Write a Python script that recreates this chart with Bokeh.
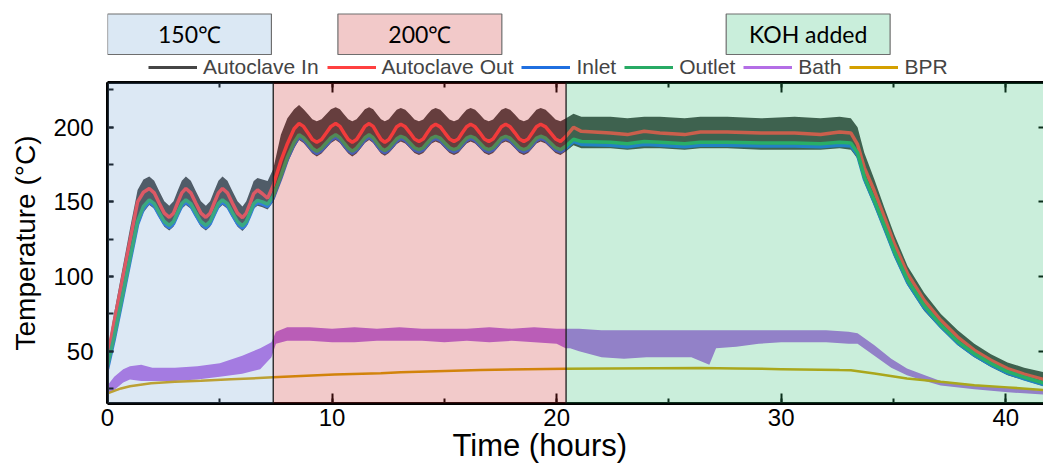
from bokeh.plotting import figure
from bokeh.models import (Range1d, LinearAxis, SingleIntervalTicker, BoxAnnotation,
                          Span, Legend, LegendItem, Title)
from bokeh.layouts import column
from bokeh.embed import file_html
from bokeh.resources import INLINE
from bokeh.core.properties import value

# ---------------- data ----------------
hours = [0.00, 0.30, 0.60, 1.00, 1.34, 1.60,
         1.86, 2.08, 2.30, 2.53, 2.75, 2.94, 3.12, 3.31,
         3.49, 3.71, 3.93, 4.16, 4.38, 4.57, 4.75, 4.94,
         5.12, 5.34, 5.56, 5.79, 6.01, 6.18, 6.35, 6.51,
         6.68, 6.90, 7.13, 7.38, 7.72, 8.01, 8.31,
         8.53, 8.73, 8.93, 9.12, 9.32, 9.53, 9.74, 9.95,
         10.16, 10.35, 10.53, 10.72, 10.90, 11.09, 11.28, 11.46,
         11.65, 11.83, 12.00, 12.18, 12.35, 12.53, 12.71, 12.88,
         13.06, 13.26, 13.47, 13.67, 13.87, 14.06, 14.24, 14.43,
         14.61, 14.82, 15.02, 15.23, 15.43, 15.62, 15.80, 15.99,
         16.17, 16.37, 16.58, 16.78, 16.98, 17.17, 17.36, 17.54,
         17.73, 17.93, 18.14, 18.34, 18.54, 18.73, 18.92, 19.10,
         19.29, 19.51, 19.73, 19.95, 20.17,
         20.42, 20.75, 21.10, 22.40, 23.15, 23.90, 24.60, 25.70,
         26.40, 27.60, 29.10, 30.60, 31.75, 32.60, 33.10, 33.40, 33.70, 34.15, 34.60, 35.04,
         35.63, 36.37, 37.11, 37.86, 38.60, 39.34, 40.08, 40.82, 41.70]

autoclave_out = [46, 70, 93, 124, 150, 156.5,
                 159, 156.1, 149.3, 142.5, 139.7, 142.5, 149.3, 156.1,
                 159, 156.1, 149.3, 142.5, 139.7, 142.5, 149.3, 156.1,
                 159, 156.1, 149.3, 142.5, 139.5, 142.5, 149, 155.5,
                 158, 155.5, 152.5, 161, 177.5, 189, 199,
                 202.5, 200.6, 196.2, 191.8, 190, 191.8, 196.2, 200.6,
                 202.5, 200.6, 196.2, 191.8, 190, 191.8, 196.2, 200.6,
                 202.5, 200.6, 196.2, 191.8, 190, 191.8, 196.1, 200.4,
                 202, 200.3, 196.3, 192.2, 190.5, 192.2, 196.3, 200.3,
                 202, 200.3, 196.3, 192.2, 190.5, 192.2, 196.3, 200.3,
                 202, 200.3, 196.3, 192.2, 190.5, 192.2, 196.3, 200.3,
                 202, 200.3, 196.3, 192.2, 190.5, 192.2, 196.3, 200.3,
                 202, 200.3, 196.3, 192.2, 190.5,
                 194, 200, 197.3, 196.2, 195.1, 197.3, 196.2, 195.1,
                 196.8, 196.8, 196.2, 196.2, 195.1, 196.8, 196.2, 188.5, 173, 157.3, 139.5, 121.8,
                 101.8, 84, 70.7, 59.5, 50.7, 44, 38.4, 34.7, 31.1]

outlet = [40, 60, 82, 112, 137, 147,
          151.4, 148.9, 142.9, 136.9, 134.3, 136.9, 142.9, 148.9,
          151.4, 148.9, 142.9, 136.9, 134.3, 136.9, 142.9, 148.9,
          151.4, 148.9, 142.9, 136.9, 134, 136.9, 142.9, 148.9,
          151, 150, 148.5, 154, 167.5, 180, 190,
          195, 193, 189.5, 186, 184, 186, 189.5, 193,
          195, 193, 189.5, 186, 184, 186, 189.5, 193,
          195, 193, 189.5, 186, 184.5, 186.3, 189.3, 192.3,
          194, 192.7, 189.5, 186.3, 185, 186.3, 189.5, 192.7,
          194, 192.7, 189.5, 186.3, 185, 186.3, 189.5, 192.7,
          194, 192.7, 189.5, 186.3, 185, 186.3, 189.5, 192.7,
          194, 192.7, 189.5, 186.3, 185, 186.3, 189.5, 192.7,
          194, 192.7, 189.5, 186.3, 185,
          187.5, 192, 190.5, 190, 189, 190.5, 190, 189,
          190, 190, 189.5, 189.5, 189, 190, 189.5, 183, 167, 151, 134, 117,
          97.5, 80.5, 67.5, 56.5, 48.3, 41.8, 36.3, 32.6, 28.6]

inlet = [38, 58, 80, 110, 135, 145.5,
         150, 147.4, 141.4, 135.4, 132.8, 135.4, 141.4, 147.4,
         150, 147.4, 141.4, 135.4, 132.8, 135.4, 141.4, 147.4,
         150, 147.4, 141.4, 135.4, 132.5, 135.4, 141.4, 147.4,
         149.5, 148.5, 147, 152.5, 166, 178.5, 188.5,
         193.5, 191.5, 188, 184.5, 182.5, 184.5, 188, 191.5,
         193.5, 191.5, 188, 184.5, 182.5, 184.5, 188, 191.5,
         193.5, 191.5, 188, 184.5, 183, 184.8, 187.8, 190.8,
         192.5, 191.2, 188, 184.8, 183.5, 184.8, 188, 191.2,
         192.5, 191.2, 188, 184.8, 183.5, 184.8, 188, 191.2,
         192.5, 191.2, 188, 184.8, 183.5, 184.8, 188, 191.2,
         192.5, 191.2, 188, 184.8, 183.5, 184.8, 188, 191.2,
         192.5, 191.2, 188, 184.8, 183.5,
         186, 190.5, 188.5, 188, 187, 188.5, 188, 187,
         188, 188, 187.5, 187.5, 187, 188, 187.5, 181.5, 165.5, 149.5, 132.5, 115.5,
         96, 79, 66.5, 55.5, 47.3, 40.8, 35.3, 31.6, 27.6]

autoclave_in_high = [50, 76, 100, 132, 158, 165,
                     167, 164.2, 157.3, 150.4, 147.5, 150.4, 157.3, 164.2,
                     167, 164.2, 157.3, 150.4, 147.5, 150.4, 157.3, 164.2,
                     167, 164.2, 157.3, 150.4, 147, 150.4, 157.3, 164,
                     166, 165, 164, 172, 195, 206, 212,
                     215, 212, 208.7, 205.4, 204, 205.4, 208.7, 212,
                     213.5, 212, 208.7, 205.4, 204, 205.4, 208.7, 212,
                     213.5, 212, 208.7, 205.4, 204, 205.4, 208.7, 211.8,
                     213, 211.7, 208.5, 205.3, 204, 205.3, 208.5, 211.7,
                     213, 211.7, 208.5, 205.3, 204, 205.3, 208.5, 211.7,
                     213, 211.7, 208.5, 205.3, 204, 205.3, 208.5, 211.7,
                     213, 211.7, 208.5, 205.3, 204, 205.3, 208.5, 211.7,
                     213, 211.7, 208.5, 205.3, 204,
                     206, 209, 207, 207, 206, 207, 207, 206,
                     207, 207, 206, 207, 206, 207, 206, 200, 183, 165, 146, 128,
                     107, 89, 75, 64, 55, 48, 42.5, 39, 36]

autoclave_in_low = [37, 56, 78, 108, 133, 143,
                    148, 145.4, 139.4, 133.4, 130.8, 133.4, 139.4, 145.4,
                    148, 145.4, 139.4, 133.4, 130.8, 133.4, 139.4, 145.4,
                    148, 145.4, 139.4, 133.4, 130.5, 133.4, 139.4, 145.4,
                    147.5, 146.5, 145, 150, 164, 176, 186,
                    191.5, 189.5, 186, 182.5, 180.5, 182.5, 186, 189.5,
                    191.5, 189.5, 186, 182.5, 180.5, 182.5, 186, 189.5,
                    191.5, 189.5, 186, 182.5, 181, 182.8, 185.8, 188.8,
                    190.5, 189.2, 186, 182.8, 181.5, 182.8, 186, 189.2,
                    190.5, 189.2, 186, 182.8, 181.5, 182.8, 186, 189.2,
                    190.5, 189.2, 186, 182.8, 181.5, 182.8, 186, 189.2,
                    190.5, 189.2, 186, 182.8, 181.5, 182.8, 186, 189.2,
                    190.5, 189.2, 186, 182.8, 181.5,
                    184, 188, 186, 186, 185, 186, 186, 185,
                    186, 186, 185, 185, 185, 186, 185, 179, 163, 147, 130, 113,
                    94, 77, 65, 54, 46, 39.5, 34, 30.5, 26.5]

bath_hours = [0.0, 0.3, 0.7, 1.0, 1.5, 2.0, 3.0, 4.0, 5.0, 6.0, 6.8, 7.3, 7.5, 8.0, 9.0,
              10.0, 11.0, 12.0, 13.0, 14.0, 15.0, 16.0, 17.0, 18.0, 19.0, 20.0, 20.4, 20.6,
              21.0, 22.0, 23.0, 24.0, 25.0, 26.0, 26.8, 27.1, 28.0, 29.0, 30.0, 31.0, 32.0,
              33.0, 33.4, 34.15, 34.9, 35.6, 36.4, 37.1, 38.6, 40.1, 41.7]
bath_low = [21, 24, 29, 31, 30, 30, 30, 31, 33, 35, 38, 46, 55, 57, 57,
            56, 56, 57, 57, 57, 56, 57, 56, 57, 56, 55, 52, 52,
            50, 46, 45, 46, 46, 46, 41, 52, 53, 55, 56, 56, 56,
            55, 55, 47, 39, 34, 30, 27, 24.5, 22.5, 21]
bath_high = [27, 33, 38, 40, 41, 39, 39, 40, 42, 47, 52, 56, 63, 66, 66,
             65, 66, 65, 66, 65, 65, 65, 66, 65, 66, 65, 65, 65,
             65, 64, 64, 64, 64, 64, 64, 64, 64, 64, 64, 64, 64,
             63, 62, 54, 45, 38.5, 34, 30, 27.5, 25.5, 23.5]

bpr_hours = [0.0, 0.3, 0.6, 1.0, 1.94, 3.0, 4.16, 5.5, 7.37, 10.1, 12.17, 13.06, 16.6, 20.4,
             26.4, 28.0, 30.0, 32.6, 33.1, 34.15, 35.6, 37.1, 38.6, 40.1, 41.7]
bpr = [21.8, 23.5, 25.1, 26.5, 28.5, 29.5, 30.2, 31.2, 32.5, 34.5, 35.3, 36.0, 37.4, 38.3,
       38.7, 38.5, 38.0, 37.4, 37.3, 35.1, 31.8, 29.5, 27.3, 25.8, 24.0]

series_names = ["Autoclave In", "Autoclave Out", "Inlet", "Outlet", "Bath", "BPR"]
series_colors = ["#454545", "#ff4040", "#1f6fe0", "#28aa64", "#b46ee6", "#d4a000"]

phase_names = ["150\u2103", "200\u2103", "KOH added"]
phase_start = [0.0, 7.38, 20.42]
phase_end = [7.38, 20.42, None]
phase_overlay = ["#73a3d3", "#cb2b2b", "#2bbb6f"]
phase_box_fill = ["#dbe8f4", "#f2c9c9", "#c9eedb"]
label_box_left = [0.0, 10.26, 27.55]
label_box_right = [7.3, 17.56, 34.85]

# ---------------- layout constants ----------------
W = 1043
TOP_H = 80
MAIN_H = 386
FONT = "Liberation Sans"
XTITLE_OFFSET = 345   # px from the frame's left edge, where the x title starts

xr = Range1d(0, 41.68)

# ---------------- main plot ----------------
p = figure(width=W, height=MAIN_H, x_range=xr, y_range=Range1d(15, 230),
           output_backend="svg", toolbar_location=None,
           min_border_left=107, min_border_right=0, min_border_top=2, min_border_bottom=63)
p.grid.visible = False
p.outline_line_color = None
p.background_fill_color = "white"
p.border_fill_color = "white"

c = dict(zip(series_names, series_colors))
p.varea(x=hours, y1=autoclave_in_low, y2=autoclave_in_high, fill_color=c["Autoclave In"])
p.line(hours, autoclave_out, line_color=c["Autoclave Out"], line_width=3.5)
p.line(hours, inlet, line_color=c["Inlet"], line_width=3.5)
p.line(hours, outlet, line_color=c["Outlet"], line_width=3.5)
p.varea(x=bath_hours, y1=bath_low, y2=bath_high, fill_color=c["Bath"])
p.line(bpr_hours, bpr, line_color=c["BPR"], line_width=2.5)

for s, e, col in zip(phase_start, phase_end, phase_overlay):
    p.add_layout(BoxAnnotation(left=s, right=e, fill_color=col, fill_alpha=0.25,
                               line_color=None))
for s in phase_start[1:]:
    p.add_layout(Span(location=s, dimension="height", line_color="#1a1a1a", line_width=1.3))

def style_axis(ax, tick_in, minor_in, label_size, standoff):
    ax.axis_line_color = "black"
    ax.axis_line_width = 3
    ax.major_tick_in = tick_in
    ax.major_tick_out = 0
    ax.minor_tick_in = minor_in
    ax.minor_tick_out = 0
    ax.major_tick_line_width = 2
    ax.minor_tick_line_width = 2
    ax.major_tick_line_color = "black"
    ax.minor_tick_line_color = "black"
    ax.major_label_text_font = FONT
    ax.major_label_text_font_size = label_size
    ax.major_label_text_color = "black"
    ax.major_label_standoff = standoff

xb = p.xaxis[0]
xb.ticker = SingleIntervalTicker(interval=10, num_minor_ticks=2)
style_axis(xb, 10, 5, "24px", 5)

yl = p.yaxis[0]
yl.ticker = SingleIntervalTicker(interval=50, num_minor_ticks=2)
style_axis(yl, 6, 6, "24px", 14)
yl.axis_label = "Temperature (\u00b0C)"
yl.axis_label_text_font = FONT
yl.axis_label_text_font_size = "28px"
yl.axis_label_text_font_style = "normal"
yl.axis_label_text_color = "black"
yl.axis_label_standoff = 9

xt = LinearAxis(ticker=SingleIntervalTicker(interval=10, num_minor_ticks=2))
style_axis(xt, 10, 5, "1px", 0)
xt.major_label_text_color = None
p.add_layout(xt, "above")

yr = LinearAxis(ticker=SingleIntervalTicker(interval=50, num_minor_ticks=0))
style_axis(yr, 5, 0, "1px", 0)
yr.major_label_text_color = None
yr.axis_line_color = None
p.add_layout(yr, "right")

p.add_layout(Title(text="Time (hours)", align="left", offset=XTITLE_OFFSET, standoff=-6,
                   text_font=FONT, text_font_size="31px", text_font_style="normal",
                   text_color="black"), "below")

# ---------------- header (phase boxes + legend) ----------------
t = figure(width=W, height=TOP_H, x_range=xr, y_range=Range1d(TOP_H, 0),
           output_backend="svg", toolbar_location=None,
           x_axis_location=None, y_axis_location=None,
           min_border=0, min_border_left=107, min_border_right=0)
t.grid.visible = False
t.outline_line_color = None
t.background_fill_color = "white"
t.border_fill_color = "white"

BOX_TOP, BOX_BOTTOM = 13.5, 54
t.quad(left=label_box_left, right=label_box_right,
       top=[BOX_TOP] * len(phase_names), bottom=[BOX_BOTTOM] * len(phase_names),
       fill_color=phase_box_fill, line_color="#6e6e6e", line_width=1.2)
t.text(x=[(a + b) / 2 for a, b in zip(label_box_left, label_box_right)],
       y=[(BOX_TOP + BOX_BOTTOM) / 2] * len(phase_names), text=phase_names,
       text_align="center", text_baseline="middle", text_font=value("Lato"),
       text_font_size="23px", text_color="black")

nan = float("nan")
items = []
for name, col in zip(series_names, series_colors):
    r = t.line(x=[nan], y=[nan], line_color=col, line_width=3)
    items.append(LegendItem(label=name, renderers=[r]))
leg = Legend(items=items, orientation="horizontal", location=(41, 1),
             glyph_width=49, glyph_height=20, label_standoff=6, spacing=8,
             padding=0, margin=0, border_line_color=None, background_fill_alpha=0,
             label_text_font=FONT, label_text_font_size="21px", label_height=20)
t.add_layout(leg)

layout = column(t, p, spacing=0)
open("out.html", "w").write(file_html(layout, INLINE))
